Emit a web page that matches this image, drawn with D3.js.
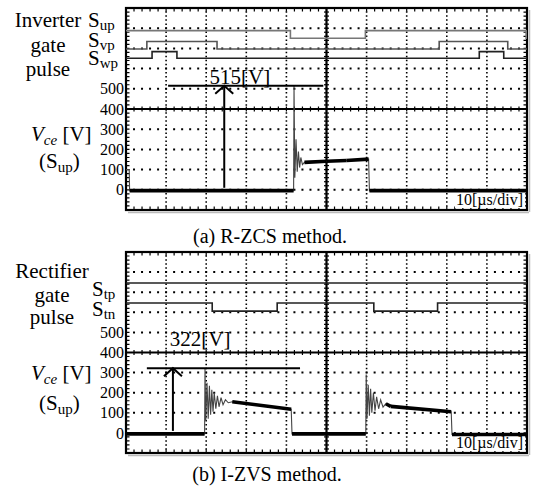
<!DOCTYPE html>
<html>
<head>
<meta charset="utf-8">
<script src="https://cdn.jsdelivr.net/npm/d3@7"></script>
<style>
  body { margin: 0; background: #fff; }
  svg { display: block; }
</style>
</head>
<body>
<svg id="chart" width="534" height="486" font-family="'Liberation Serif', 'DejaVu Serif', serif"></svg>
<script>
// scope screen: 10 us/div over 10 divisions, 100 V/div over 10 divisions
const timeSpan = [0, 100];
const voltSpan = [-100, 900];
const voltTicks = [0, 100, 200, 300, 400, 500];

// (a) R-ZCS, inverter gate pulses: [time us, level in divisions]
const gateSup = [[0, 8.88], [41.0, 8.50], [59.7, 8.88], [99.8, 8.50], [100, 8.50]];
const gateSvp = [[0, 7.97], [5.2, 8.34], [22.7, 7.97], [78.1, 8.34], [95.2, 7.97], [100, 7.97]];
const gateSwp = [[0, 7.51], [6.5, 7.84], [12.7, 7.51], [88.1, 7.84], [94.2, 7.51], [100, 7.51]];

// (a) Vce of Sup: [time us, volts]
const vceA = [[0, 100], [0.8, 100], [0.9, -4], [41.8, -4], [41.9, 515], [42.1, 60], [42.4, 250],
  [42.7, 90], [43.0, 190], [43.3, 110], [43.6, 160], [44.0, 125], [44.5, 136], [50, 141],
  [55, 145], [60.5, 152], [60.7, -4], [100, -4]];
const peakA = [24.5, 515];          // arrow time, peak volts
const peakLineA = [10.5, 49.2];     // marker line start/end time

// (b) I-ZVS, rectifier gate pulses
const gateStp = [[0, 8.46], [100, 8.46]];
const gateStn = [[0, 7.46], [21.5, 7.06], [37.7, 7.46], [61.8, 7.06], [77.7, 7.46], [100, 7.46]];

// (b) Vce of Sup
const vceB = [[0, -5], [19.6, -5], [19.7, 322], [19.9, 60], [20.2, 250], [20.5, 70], [20.8, 235],
  [21.1, 90], [21.4, 215], [21.7, 105], [22.0, 200], [22.4, 120], [22.8, 185], [23.2, 130],
  [23.7, 175], [24.2, 140], [24.8, 165], [25.5, 150], [26.5, 155], [41.2, 118], [41.4, -5],
  [59.8, -5], [59.9, 290], [60.1, 70], [60.4, 240], [60.7, 85], [61.0, 220], [61.3, 100],
  [61.7, 200], [62.1, 110], [62.5, 180], [63.0, 120], [63.5, 165], [64.1, 128], [64.8, 145],
  [66.0, 132], [81.1, 105], [81.3, -8], [100, -8]];
const peakB = [11.7, 322];
const peakLineB = [5.2, 43.4];

const svg = d3.select("#chart");

function panel(top, bottom) {
  const g = svg.append("g");
  const x = d3.scaleLinear().domain(timeSpan).range([126, 527]);
  const yDiv = d3.scaleLinear().domain([0, 10]).range([bottom, top]);
  const yVolt = d3.scaleLinear().domain(voltSpan).range([bottom, top]);

  // shadow
  g.append("line").attr("x1", x(0) + 2).attr("x2", x(100) + 2)
    .attr("y1", bottom + 2.5).attr("y2", bottom + 2.5).attr("stroke", "#bbb").attr("stroke-width", 1.5);
  g.append("line").attr("x1", x(100) + 2.5).attr("x2", x(100) + 2.5)
    .attr("y1", top + 2).attr("y2", bottom + 2).attr("stroke", "#bbb").attr("stroke-width", 1.5);

  // dotted grid
  const vt = d3.range(10, 100, 10).filter(d => d !== 50);
  const hd = d3.range(1, 10).filter(d => d !== 5);
  const divH = (bottom - top) / 10, divW = (x(100) - x(0)) / 10;
  g.selectAll(".gv").data(vt).join("line")
    .attr("x1", d => x(d)).attr("x2", d => x(d)).attr("y1", top).attr("y2", bottom)
    .attr("stroke", "#000").attr("stroke-width", 1.6)
    .attr("stroke-dasharray", `1.5,${divH / 5 - 1.5}`).attr("stroke-dashoffset", 0.75);
  g.selectAll(".gh").data(hd).join("line")
    .attr("x1", x(0)).attr("x2", x(100)).attr("y1", d => yDiv(d)).attr("y2", d => yDiv(d))
    .attr("stroke", "#000").attr("stroke-width", 2)
    .attr("stroke-dasharray", `2,${divW / 5 - 2}`).attr("stroke-dashoffset", 1);

  // center axes with minor ticks
  g.append("line").attr("x1", x(0)).attr("x2", x(100)).attr("y1", yDiv(5)).attr("y2", yDiv(5))
    .attr("stroke", "#000").attr("stroke-width", 2.2);
  g.append("line").attr("x1", x(50)).attr("x2", x(50)).attr("y1", top).attr("y2", bottom)
    .attr("stroke", "#000").attr("stroke-width", 2.2);
  const mt = d3.range(0, 100.01, 2), md = d3.range(0, 10.01, 0.2);
  g.selectAll(".tx").data(mt).join("line")
    .attr("x1", d => x(d)).attr("x2", d => x(d))
    .attr("y1", yDiv(5) - 2.5).attr("y2", yDiv(5) + 2.5).attr("stroke", "#000").attr("stroke-width", 1.2);
  g.selectAll(".ty").data(md).join("line")
    .attr("x1", x(50) - 2.5).attr("x2", x(50) + 2.5)
    .attr("y1", d => yDiv(d)).attr("y2", d => yDiv(d)).attr("stroke", "#000").attr("stroke-width", 1.2);

  // frame with inward ticks
  g.append("rect").attr("x", x(0)).attr("y", top).attr("width", x(100) - x(0)).attr("height", bottom - top)
    .attr("fill", "none").attr("stroke", "#000").attr("stroke-width", 2.2);
  g.selectAll(".ft").data(mt).join("path")
    .attr("d", d => `M${x(d)},${top}v3.5M${x(d)},${bottom}v-3.5`).attr("stroke", "#000").attr("stroke-width", 1.2);
  g.selectAll(".fs").data(md).join("path")
    .attr("d", d => `M${x(0)},${yDiv(d)}h3.5M${x(100)},${yDiv(d)}h-3.5`).attr("stroke", "#000").attr("stroke-width", 1.2);

  // volt tick labels
  g.selectAll(".vl").data(voltTicks).join("text")
    .attr("x", 124).attr("y", d => yVolt(d)).attr("dy", "0.35em")
    .attr("text-anchor", "end").attr("font-size", 16).text(d => d);

  // time base note
  g.append("rect").attr("x", 455).attr("y", bottom - 18).attr("width", 70).attr("height", 16).attr("fill", "#fff");
  g.append("text").attr("x", 523).attr("y", bottom - 5).attr("text-anchor", "end")
    .attr("font-size", 16).text("10[\u00b5s/div]");

  return { g, x, yDiv, yVolt };
}

function gate(p, data, color) {
  const line = d3.line().x(d => p.x(d[0])).y(d => p.yDiv(d[1])).curve(d3.curveStepAfter);
  p.g.append("path").datum(data).attr("d", line)
    .attr("fill", "none").attr("stroke", color).attr("stroke-width", 1.6);
}

function trace(p, data) {
  const line = d3.line().x(d => p.x(d[0])).y(d => p.yVolt(d[1]));
  p.g.append("path").datum(data).attr("d", line)
    .attr("fill", "none").attr("stroke", "#444").attr("stroke-width", 1.1);
  // noisy plateaus drawn as a thick band
  const segs = d3.pairs(data).filter(([a, b]) => b[0] - a[0] > 1);
  p.g.selectAll(null).data(segs).join("path")
    .attr("d", d => line(d)).attr("fill", "none").attr("stroke", "#000")
    .attr("stroke-width", 3.6).attr("stroke-linecap", "butt");
}

function marker(p, peak, span, label, labelT, labelV) {
  const xa = p.x(peak[0]), ya = p.yVolt(peak[1]);
  p.g.append("line").attr("x1", p.x(span[0])).attr("x2", p.x(span[1]))
    .attr("y1", ya).attr("y2", ya).attr("stroke", "#000").attr("stroke-width", 2);
  p.g.append("line").attr("x1", xa).attr("x2", xa).attr("y1", p.yVolt(0) - 2).attr("y2", ya)
    .attr("stroke", "#000").attr("stroke-width", 2);
  p.g.append("path").attr("d", `M${xa - 9},${ya + 8}L${xa},${ya}L${xa + 9},${ya + 8}`)
    .attr("fill", "none").attr("stroke", "#000").attr("stroke-width", 2);
  p.g.append("text").attr("x", p.x(labelT)).attr("y", p.yVolt(labelV))
    .attr("text-anchor", "middle").attr("font-size", 21).text(label);
}

function sLabel(x, y, sub) {
  const t = svg.append("text").attr("x", x).attr("y", y).attr("font-size", 21);
  t.append("tspan").text("S");
  t.append("tspan").attr("font-size", 15).attr("dy", 3).text(sub);
}

function vceLabel(y1, y2) {
  const t = svg.append("text").attr("x", 31).attr("y", y1).attr("font-size", 21);
  t.append("tspan").attr("font-style", "italic").text("V");
  t.append("tspan").attr("font-style", "italic").attr("font-size", 15).attr("dy", 4).text("ce");
  t.append("tspan").attr("dy", -4).text(" [V]");
  const s = svg.append("text").attr("x", 39).attr("y", y2).attr("font-size", 21);
  s.append("tspan").text("(S");
  s.append("tspan").attr("font-size", 15).attr("dy", 4).text("up");
  s.append("tspan").attr("dy", -4).text(")");
}

function leftTitle(cx, ys, words) {
  svg.selectAll(null).data(words).join("text")
    .attr("x", cx).attr("y", (d, i) => ys[i]).attr("text-anchor", "middle")
    .attr("font-size", 21).text(d => d);
}

// (a)
const pa = panel(8, 210);
gate(pa, gateSup, "#777");
gate(pa, gateSvp, "#555");
gate(pa, gateSwp, "#222");
trace(pa, vceA);
marker(pa, peakA, peakLineA, "515[V]", 28.4, 525);
leftTitle(48, [27, 52, 76], ["Inverter", "gate", "pulse"]);
sLabel(88, 27, "up");
sLabel(88, 47, "vp");
sLabel(88, 65, "wp");
vceLabel(141, 168);
svg.append("text").attr("x", 270).attr("y", 243).attr("text-anchor", "middle")
  .attr("font-size", 20).text("(a) R-ZCS method.");

// (b)
const pb = panel(252, 453);
gate(pb, gateStp, "#222");
gate(pb, gateStn, "#222");
trace(pb, vceB);
marker(pb, peakB, peakLineB, "322[V]", 18.5, 430);
leftTitle(52, [278, 302, 324], ["Rectifier", "gate", "pulse"]);
sLabel(92, 296, "tp");
sLabel(92, 316, "tn");
vceLabel(380, 410);
svg.append("text").attr("x", 267).attr("y", 481).attr("text-anchor", "middle")
  .attr("font-size", 20).text("(b) I-ZVS method.");
</script>
</body>
</html>
